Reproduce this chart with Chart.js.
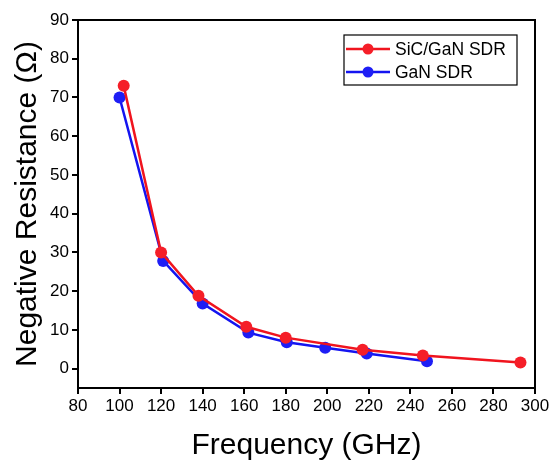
<!DOCTYPE html>
<html>
<head>
<meta charset="utf-8">
<script src="https://cdn.jsdelivr.net/npm/chart.js@4"></script>
<style>
  html, body { margin: 0; padding: 0; background: #fff; }
  #wrap { width: 552px; height: 461px; }
</style>
</head>
<body>
<div id="wrap"><canvas id="myChart" width="552" height="461"></canvas></div>
<script>
// values
const sicFreq = [102, 120, 138, 161, 180, 217, 246, 293];
const sicRes  = [73, 30, 18.8, 10.8, 8, 4.9, 3.4, 1.6];
const ganFreq = [100, 121, 140, 162, 180.5, 199, 219, 248];
const ganRes  = [70, 27.8, 16.8, 9.3, 6.8, 5.4, 3.9, 1.9];
const xTicks = [80, 100, 120, 140, 160, 180, 200, 220, 240, 260, 280, 300];
const yTicks = [0, 10, 20, 30, 40, 50, 60, 70, 80, 90];

const FONT = "'Liberation Sans', Arial, sans-serif";

function toPoints(xs, ys) {
  let pts = [];
  for (let i = 0; i < xs.length; i++) pts.push({x: xs[i], y: ys[i]});
  return pts;
}

// frame + legend box drawn on top
const framePlugin = {
  id: 'frame',
  afterDraw(chart) {
    const ctx = chart.ctx;
    const a = chart.chartArea;
    ctx.save();
    ctx.strokeStyle = '#000';
    ctx.lineWidth = 2;
    ctx.strokeRect(a.left, a.top, a.right - a.left, a.bottom - a.top);

    // legend
    const bx = 344, by = 35, bw = 173, bh = 50;
    ctx.fillStyle = '#fff';
    ctx.fillRect(bx, by, bw, bh);
    ctx.lineWidth = 1.2;
    ctx.strokeRect(bx, by, bw, bh);
    ctx.font = '17.5px ' + FONT;
    ctx.textBaseline = 'middle';
    chart.data.datasets.forEach(function (ds, i) {
      const y = by + 14 + i * 23;
      ctx.strokeStyle = ds.borderColor;
      ctx.lineWidth = 2.5;
      ctx.beginPath();
      ctx.moveTo(bx + 2, y);
      ctx.lineTo(bx + 46, y);
      ctx.stroke();
      ctx.fillStyle = ds.backgroundColor;
      ctx.beginPath();
      ctx.arc(bx + 24, y, 5.5, 0, Math.PI * 2);
      ctx.fill();
      ctx.fillStyle = '#000';
      ctx.fillText(ds.label, bx + 51, y + 1);
    });
    ctx.restore();
  }
};

const data = {
  datasets: [
    {
      label: 'SiC/GaN SDR',
      data: toPoints(sicFreq, sicRes),
      borderColor: 'rgb(240,20,30)',
      backgroundColor: 'rgb(245,30,40)',
      borderWidth: 2.5,
      pointRadius: 6,
      pointBorderWidth: 0,
      order: 1
    },
    {
      label: 'GaN SDR',
      data: toPoints(ganFreq, ganRes),
      borderColor: 'rgb(20,20,240)',
      backgroundColor: 'rgb(30,30,245)',
      borderWidth: 2.5,
      pointRadius: 6,
      pointBorderWidth: 0,
      order: 2
    }
  ]
};

const config = {
  type: 'line',
  data: data,
  options: {
    responsive: false,
    animation: false,
    layout: { padding: { top: 20, right: 17, left: 0, bottom: 0 } },
    plugins: {
      legend: { display: false },
      tooltip: { enabled: false }
    },
    scales: {
      x: {
        type: 'linear',
        min: 80,
        max: 300,
        afterBuildTicks: function (s) { s.ticks = xTicks.map(v => ({value: v})); },
        afterFit: function (s) { s.height = 73; },
        grid: { drawOnChartArea: false, tickLength: 6, color: '#000', lineWidth: 2 },
        border: { color: '#000', width: 2 },
        ticks: { color: '#000', font: { family: FONT, size: 17 }, padding: 2, maxRotation: 0 },
        title: { display: true, text: 'Frequency (GHz)', color: '#000',
                 font: { family: FONT, size: 30, lineHeight: 1 }, padding: { top: 0, bottom: 0 } }
      },
      y: {
        min: -5,
        max: 90,
        afterBuildTicks: function (s) { s.ticks = yTicks.map(v => ({value: v})); },
        afterFit: function (s) { s.width = 78; },
        grid: { drawOnChartArea: false, tickLength: 6, color: '#000', lineWidth: 2 },
        border: { color: '#000', width: 2 },
        ticks: { color: '#000', font: { family: FONT, size: 17 }, padding: 3 },
        title: { display: true, text: 'Negative Resistance (Ω)', color: '#000',
                 font: { family: FONT, size: 30, lineHeight: 1 }, padding: { top: 13, bottom: 0 } }
      }
    }
  },
  plugins: [framePlugin]
};

const myChart = new Chart(document.getElementById('myChart'), config);
</script>
</body>
</html>
